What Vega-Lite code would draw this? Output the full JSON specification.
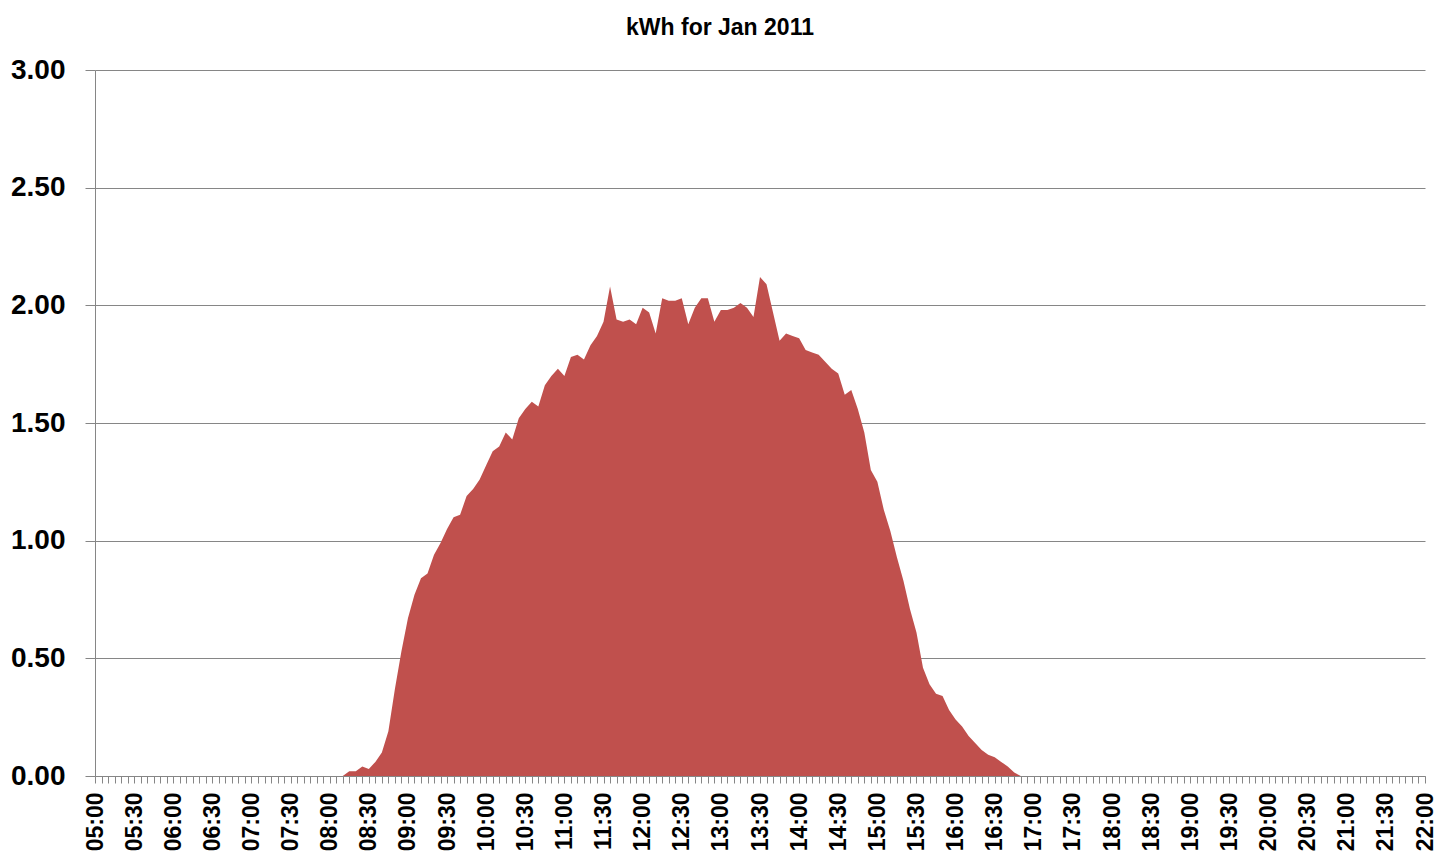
{
  "$schema": "https://vega.github.io/schema/vega-lite/v6.json",
  "autosize": "none",
  "width": 1330,
  "height": 706,
  "padding": {"left": 95, "top": 70, "right": 16, "bottom": 89},
  "background": "white",
  "title": {
    "text": "kWh for Jan 2011",
    "font": "Liberation Sans",
    "fontSize": 23,
    "fontWeight": "bold",
    "color": "#000000",
    "anchor": "middle",
    "offset": 16,
    "dx": -40
  },
  "data": {
    "values": [
      {"time": "2011-01-01T08:05:00", "kwh": 0},
      {"time": "2011-01-01T08:10:00", "kwh": 0},
      {"time": "2011-01-01T08:15:00", "kwh": 0.02},
      {"time": "2011-01-01T08:20:00", "kwh": 0.02},
      {"time": "2011-01-01T08:25:00", "kwh": 0.04},
      {"time": "2011-01-01T08:30:00", "kwh": 0.03},
      {"time": "2011-01-01T08:35:00", "kwh": 0.06},
      {"time": "2011-01-01T08:40:00", "kwh": 0.10},
      {"time": "2011-01-01T08:45:00", "kwh": 0.19},
      {"time": "2011-01-01T08:50:00", "kwh": 0.37},
      {"time": "2011-01-01T08:55:00", "kwh": 0.53},
      {"time": "2011-01-01T09:00:00", "kwh": 0.67},
      {"time": "2011-01-01T09:05:00", "kwh": 0.77},
      {"time": "2011-01-01T09:10:00", "kwh": 0.84},
      {"time": "2011-01-01T09:15:00", "kwh": 0.86},
      {"time": "2011-01-01T09:20:00", "kwh": 0.94},
      {"time": "2011-01-01T09:25:00", "kwh": 0.99},
      {"time": "2011-01-01T09:30:00", "kwh": 1.05},
      {"time": "2011-01-01T09:35:00", "kwh": 1.10},
      {"time": "2011-01-01T09:40:00", "kwh": 1.11},
      {"time": "2011-01-01T09:45:00", "kwh": 1.19},
      {"time": "2011-01-01T09:50:00", "kwh": 1.22},
      {"time": "2011-01-01T09:55:00", "kwh": 1.26},
      {"time": "2011-01-01T10:00:00", "kwh": 1.32},
      {"time": "2011-01-01T10:05:00", "kwh": 1.38},
      {"time": "2011-01-01T10:10:00", "kwh": 1.40},
      {"time": "2011-01-01T10:15:00", "kwh": 1.46},
      {"time": "2011-01-01T10:20:00", "kwh": 1.43},
      {"time": "2011-01-01T10:25:00", "kwh": 1.52},
      {"time": "2011-01-01T10:30:00", "kwh": 1.56},
      {"time": "2011-01-01T10:35:00", "kwh": 1.59},
      {"time": "2011-01-01T10:40:00", "kwh": 1.57},
      {"time": "2011-01-01T10:45:00", "kwh": 1.66},
      {"time": "2011-01-01T10:50:00", "kwh": 1.70},
      {"time": "2011-01-01T10:55:00", "kwh": 1.73},
      {"time": "2011-01-01T11:00:00", "kwh": 1.70},
      {"time": "2011-01-01T11:05:00", "kwh": 1.78},
      {"time": "2011-01-01T11:10:00", "kwh": 1.79},
      {"time": "2011-01-01T11:15:00", "kwh": 1.77},
      {"time": "2011-01-01T11:20:00", "kwh": 1.83},
      {"time": "2011-01-01T11:25:00", "kwh": 1.87},
      {"time": "2011-01-01T11:30:00", "kwh": 1.93},
      {"time": "2011-01-01T11:35:00", "kwh": 2.08},
      {"time": "2011-01-01T11:40:00", "kwh": 1.94},
      {"time": "2011-01-01T11:45:00", "kwh": 1.93},
      {"time": "2011-01-01T11:50:00", "kwh": 1.94},
      {"time": "2011-01-01T11:55:00", "kwh": 1.92},
      {"time": "2011-01-01T12:00:00", "kwh": 1.99},
      {"time": "2011-01-01T12:05:00", "kwh": 1.97},
      {"time": "2011-01-01T12:10:00", "kwh": 1.88},
      {"time": "2011-01-01T12:15:00", "kwh": 2.03},
      {"time": "2011-01-01T12:20:00", "kwh": 2.02},
      {"time": "2011-01-01T12:25:00", "kwh": 2.02},
      {"time": "2011-01-01T12:30:00", "kwh": 2.03},
      {"time": "2011-01-01T12:35:00", "kwh": 1.92},
      {"time": "2011-01-01T12:40:00", "kwh": 1.99},
      {"time": "2011-01-01T12:45:00", "kwh": 2.03},
      {"time": "2011-01-01T12:50:00", "kwh": 2.03},
      {"time": "2011-01-01T12:55:00", "kwh": 1.93},
      {"time": "2011-01-01T13:00:00", "kwh": 1.98},
      {"time": "2011-01-01T13:05:00", "kwh": 1.98},
      {"time": "2011-01-01T13:10:00", "kwh": 1.99},
      {"time": "2011-01-01T13:15:00", "kwh": 2.01},
      {"time": "2011-01-01T13:20:00", "kwh": 1.99},
      {"time": "2011-01-01T13:25:00", "kwh": 1.95},
      {"time": "2011-01-01T13:30:00", "kwh": 2.12},
      {"time": "2011-01-01T13:35:00", "kwh": 2.09},
      {"time": "2011-01-01T13:40:00", "kwh": 1.97},
      {"time": "2011-01-01T13:45:00", "kwh": 1.85},
      {"time": "2011-01-01T13:50:00", "kwh": 1.88},
      {"time": "2011-01-01T13:55:00", "kwh": 1.87},
      {"time": "2011-01-01T14:00:00", "kwh": 1.86},
      {"time": "2011-01-01T14:05:00", "kwh": 1.81},
      {"time": "2011-01-01T14:10:00", "kwh": 1.80},
      {"time": "2011-01-01T14:15:00", "kwh": 1.79},
      {"time": "2011-01-01T14:20:00", "kwh": 1.76},
      {"time": "2011-01-01T14:25:00", "kwh": 1.73},
      {"time": "2011-01-01T14:30:00", "kwh": 1.71},
      {"time": "2011-01-01T14:35:00", "kwh": 1.62},
      {"time": "2011-01-01T14:40:00", "kwh": 1.64},
      {"time": "2011-01-01T14:45:00", "kwh": 1.56},
      {"time": "2011-01-01T14:50:00", "kwh": 1.46},
      {"time": "2011-01-01T14:55:00", "kwh": 1.30},
      {"time": "2011-01-01T15:00:00", "kwh": 1.25},
      {"time": "2011-01-01T15:05:00", "kwh": 1.13},
      {"time": "2011-01-01T15:10:00", "kwh": 1.04},
      {"time": "2011-01-01T15:15:00", "kwh": 0.93},
      {"time": "2011-01-01T15:20:00", "kwh": 0.83},
      {"time": "2011-01-01T15:25:00", "kwh": 0.71},
      {"time": "2011-01-01T15:30:00", "kwh": 0.61},
      {"time": "2011-01-01T15:35:00", "kwh": 0.46},
      {"time": "2011-01-01T15:40:00", "kwh": 0.39},
      {"time": "2011-01-01T15:45:00", "kwh": 0.35},
      {"time": "2011-01-01T15:50:00", "kwh": 0.34},
      {"time": "2011-01-01T15:55:00", "kwh": 0.28},
      {"time": "2011-01-01T16:00:00", "kwh": 0.24},
      {"time": "2011-01-01T16:05:00", "kwh": 0.21},
      {"time": "2011-01-01T16:10:00", "kwh": 0.17},
      {"time": "2011-01-01T16:15:00", "kwh": 0.14},
      {"time": "2011-01-01T16:20:00", "kwh": 0.11},
      {"time": "2011-01-01T16:25:00", "kwh": 0.09},
      {"time": "2011-01-01T16:30:00", "kwh": 0.08},
      {"time": "2011-01-01T16:35:00", "kwh": 0.06},
      {"time": "2011-01-01T16:40:00", "kwh": 0.04},
      {"time": "2011-01-01T16:45:00", "kwh": 0.015},
      {"time": "2011-01-01T16:50:00", "kwh": 0},
      {"time": "2011-01-01T16:55:00", "kwh": 0}
    ]
  },
  "mark": {"type": "area", "color": "#C0504D", "interpolate": "linear"},
  "encoding": {
    "x": {
      "field": "time",
      "type": "temporal",
      "scale": {
        "domain": [
          {"year": 2011, "month": 1, "date": 1, "hours": 5, "minutes": 0},
          {"year": 2011, "month": 1, "date": 1, "hours": 22, "minutes": 0}
        ],
        "nice": false
      },
      "axis": {
        "title": null,
        "grid": false,
        "tickCount": 204,
        "labelExpr": "minutes(datum.value) % 30 == 0 ? timeFormat(datum.value, '%H:%M') : ''",
        "labelOverlap": false,
        "labelFlush": false,
        "labelAngle": 270,
        "labelAlign": "right",
        "labelBaseline": "middle",
        "labelPadding": 9,
        "labelFont": "Liberation Sans",
        "labelFontSize": 23,
        "labelFontWeight": "bold",
        "labelColor": "#000000",
        "tickSize": 7,
        "tickColor": "#868686",
        "domainColor": "#868686",
        "tickWidth": 1,
        "domainWidth": 1
      }
    },
    "y": {
      "field": "kwh",
      "type": "quantitative",
      "scale": {"domain": [0, 3], "nice": false},
      "axis": {
        "title": null,
        "values": [0, 0.5, 1, 1.5, 2, 2.5, 3],
        "format": ".2f",
        "grid": true,
        "gridColor": "#868686",
        "gridWidth": 1,
        "tickSize": 10,
        "tickColor": "#868686",
        "domainColor": "#868686",
        "labelPadding": 20,
        "labelFont": "Liberation Sans",
        "labelFontSize": 28,
        "labelFontWeight": "bold",
        "labelColor": "#000000"
      }
    }
  },
  "config": {
    "view": {"stroke": null}
  }
}
